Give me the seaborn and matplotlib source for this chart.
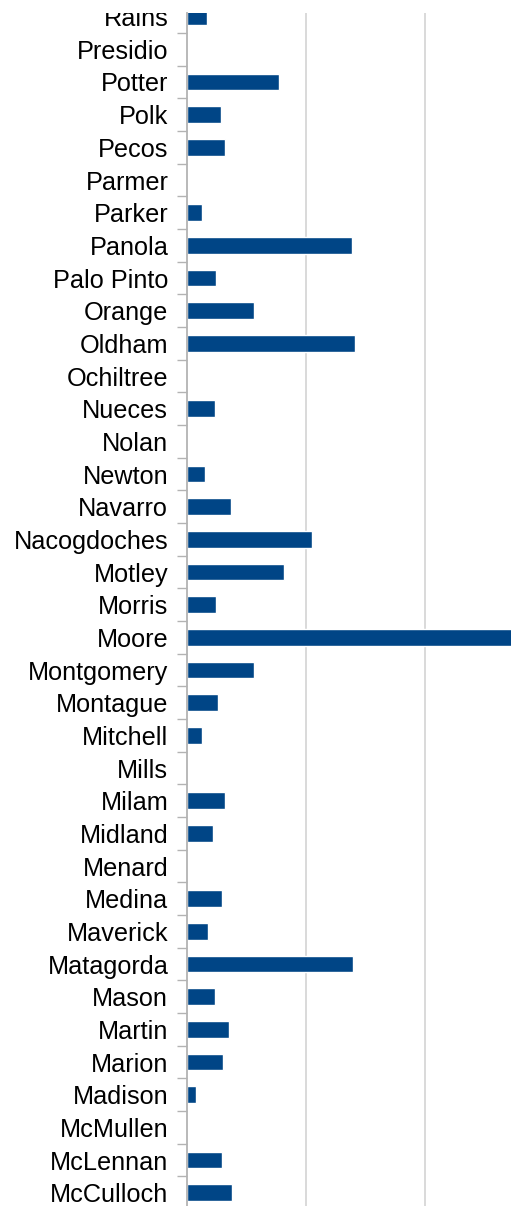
import matplotlib
matplotlib.use("Agg")
import matplotlib.pyplot as plt
from matplotlib.transforms import Bbox, TransformedBbox
import seaborn as sns
import numpy as np
import pandas as pd

counties = [
    "Rains", "Presidio", "Potter", "Polk", "Pecos", "Parmer", "Parker",
    "Panola", "Palo Pinto", "Orange", "Oldham", "Ochiltree", "Nueces",
    "Nolan", "Newton", "Navarro", "Nacogdoches", "Motley", "Morris",
    "Moore", "Montgomery", "Montague", "Mitchell", "Mills", "Milam",
    "Midland", "Menard", "Medina", "Maverick", "Matagorda", "Mason",
    "Martin", "Marion", "Madison", "McMullen", "McLennan", "McCulloch",
]
values = [
    1.7, 0.0, 7.76, 2.88, 3.22, 0.0, 1.29,
    13.9, 2.46, 5.66, 14.14, 0.0, 2.38,
    0.0, 1.54, 3.72, 10.53, 8.18, 2.46,
    30.0, 5.66, 2.63, 1.29, 0.0, 3.22,
    2.21, 0.0, 2.97, 1.79, 13.97, 2.38,
    3.55, 3.05, 0.78, 0.0, 2.97, 3.81,
]
grid_values = [10, 20, 30]

df = pd.DataFrame({"county": counties, "value": values})

sns.set_theme(style="white")
plt.rcParams["font.family"] = ["Liberation Sans", "DejaVu Sans"]

W, H, DPI = 511, 1206, 100
TOP = 1 - 13 / H
fig = plt.figure(figsize=(W / DPI, H / DPI), dpi=DPI)
ax = fig.add_axes([187 / W, 0.0, (W - 187) / W, TOP])

sns.barplot(data=df, x="value", y="county", orient="h", color="#004586",
            width=0.51, saturation=1, ax=ax, zorder=3)

for g in grid_values:
    ax.axvline(g, color="#cfcfcf", linewidth=1.1, zorder=1)

for side in ["top", "right", "bottom"]:
    ax.spines[side].set_visible(False)
ax.spines["left"].set_color("#b3b3b3")
ax.spines["left"].set_linewidth(1.3)
ax.spines["left"].set_zorder(4)

ax.set_xticks([])
ax.set_xlabel("")
ax.set_ylabel("")

ax.set_yticks(np.arange(len(counties)))
ax.set_yticklabels(counties)
ax.set_yticks(np.arange(len(counties) + 1) - 0.5, minor=True)
ax.tick_params(axis="y", which="major", length=0, pad=13.5,
               labelsize=18.2, labelcolor="black")
ax.tick_params(axis="y", which="minor", length=7.2, width=1.0,
               color="#b3b3b3", left=True)

# limits last, so the tick setters cannot widen them
ax.set_xlim(0, 27.23)
ax.set_ylim(36.405, -0.112)

# labels are cut off at the top edge of the plotting band
band = TransformedBbox(Bbox([[0, 0], [1, TOP]]), fig.transFigure)
for lab in ax.get_yticklabels():
    lab.set_clip_box(band)
    lab.set_clip_on(True)

fig.savefig("out.png", dpi=DPI)
